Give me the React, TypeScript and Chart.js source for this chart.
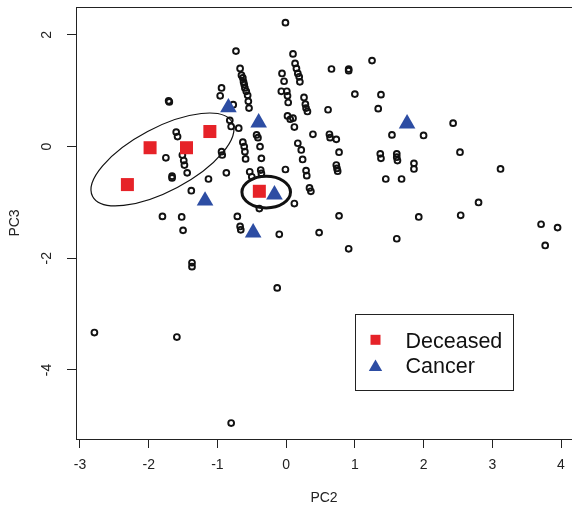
import React, { useEffect, useRef } from "react";
import { Chart, registerables } from "chart.js";

Chart.register(...registerables);

// ---- data ----
const pc2Others = [
  -0.01, -0.73, 0.10, 0.13, 0.15, 0.17, 0.19, 0.20,
  -0.67, -0.65, -0.63, -0.62, -0.61, -0.60, -0.58, -0.56, -0.55, -0.54,
  -0.06, -0.03, -0.07, 0.01, 0.02, 0.03,
  -0.94, -0.96, -1.71, -1.70,
  0.26, 0.28, 0.29, 0.31,
  0.02, 0.06, 0.10, 0.12,
  -0.82, -0.80, -0.69, -0.77,
  0.39, -1.60, -1.58,
  -0.43, -0.41, -0.38, -0.36,
  -0.63, -0.61, -0.60, -0.59,
  0.17, 0.22, 0.24,
  -1.75, -1.51, -1.49, -1.48, -1.44,
  -0.94, -0.93, -0.87, -1.66, -1.66, -1.13,
  -0.53, -0.50, -0.37, -0.36, -0.01,
  0.29, 0.30, 0.34, 0.36,
  -1.38, 0.12, -0.39, -1.80, -1.52, -0.71, -1.50, -0.67, -0.66, -0.10, 0.48,
  0.66, 0.91, 0.91, 1.25, 1.00, 1.38, 1.34, 0.61,
  0.63, 0.64, 0.73, 1.54, 2.00, 2.43,
  0.77, 0.73, 0.74, 0.75,
  1.37, 1.38, 1.61, 1.61, 1.62, 1.86, 1.86,
  2.53, 3.12, 1.45, 1.68,
  0.77, 1.93, 2.54, 2.80, 1.61, 0.91,
  3.71, 3.95, 3.77,
  -1.37, -1.37, -0.13, -2.79, -1.59, -0.80,
];
const pc3Others = [
  2.22, 1.71, 1.66, 1.49, 1.40, 1.31, 1.25, 1.16,
  1.40, 1.28, 1.23, 1.16, 1.11, 1.05, 0.99, 0.92, 0.81, 0.69,
  1.31, 1.17, 0.99, 0.99, 0.91, 0.79,
  1.05, 0.91, 0.82, 0.80,
  0.88, 0.76, 0.69, 0.63,
  0.55, 0.49, 0.51, 0.35,
  0.47, 0.36, 0.33, 0.75,
  0.22, 0.26, 0.18,
  0.21, 0.16, 0.00, -0.21,
  0.08, 0.00, -0.09, -0.22,
  0.06, -0.06, -0.23,
  -0.20, -0.15, -0.25, -0.33, -0.47,
  -0.09, -0.15, -0.47, -0.53, -0.56, -0.58,
  -0.45, -0.54, -0.42, -0.48, -0.41,
  -0.43, -0.52, -0.74, -0.80,
  -0.79, -1.02, -1.11, -1.25, -1.26, -1.25, -1.50, -1.43, -1.49, -1.57, -1.54,
  1.39, 1.39, 1.36, 1.54, 0.94, 0.93, 0.68, 0.66,
  0.22, 0.16, 0.13, 0.21, 0.20, 0.42,
  -0.10, -0.33, -0.39, -0.44,
  -0.13, -0.21, -0.13, -0.19, -0.25, -0.30, -0.40,
  -0.10, -0.40, -0.58, -0.58,
  -1.24, -1.26, -1.23, -1.00, -1.65, -1.83,
  -1.39, -1.45, -1.77,
  -2.08, -2.15, -2.53, -3.33, -3.41, -4.95,
];
const pc2Deceased = [-2.31, -1.98, -1.45, -1.11, -0.39];
const pc3Deceased = [-0.68, -0.02, -0.02, 0.27, -0.80];
const pc2Cancer = [-0.84, -0.40, -1.18, -0.17, -0.48, 1.76];
const pc3Cancer = [0.70, 0.43, -0.97, -0.86, -1.54, 0.41];

const xTicks = [-3, -2, -1, 0, 1, 2, 3, 4];
const yTicks = [-4, -2, 0, 2];
const seriesNames = ["Deceased", "Cancer"];
const xTitle = "PC2";
const yTitle = "PC3";

// ---- styling ----
const FONT = '"Liberation Sans", Arial, Helvetica, sans-serif';
const RED = "#E62228";
const BLUE = "#2D4DA3";
const INK = "#111";

// ellipse annotations: centre in data units, semi-axes in pixels
const ellipses = [
  { cx: -1.80, cy: -0.23, rx: 79, ry: 31.7, angle: -27.9, lw: 1.2 },
  { cx: -0.29, cy: -0.815, rx: 24.3, ry: 15.8, angle: 0, lw: 3 },
];
// legend anchor (top-left) in data units
const legendAnchor = { x: 1.0, y: -3.0 };

const toPts = (xs: number[], ys: number[]) => xs.map((v, i) => ({ x: v, y: ys[i] }));

const decorPlugin = {
  id: "decor",
  afterDatasetsDraw(chart: any) {
    const { ctx, chartArea, scales } = chart;
    const x = scales.x;
    const y = scales.y;
    ctx.save();
    // top frame line
    ctx.strokeStyle = "#222";
    ctx.lineWidth = 1;
    ctx.beginPath();
    ctx.moveTo(chartArea.left, chartArea.top + 0.5);
    ctx.lineTo(chartArea.right, chartArea.top + 0.5);
    ctx.stroke();

    // ellipses
    for (const e of ellipses) {
      ctx.beginPath();
      ctx.lineWidth = e.lw;
      ctx.strokeStyle = INK;
      ctx.ellipse(
        x.getPixelForValue(e.cx),
        y.getPixelForValue(e.cy),
        e.rx,
        e.ry,
        (e.angle * Math.PI) / 180,
        0,
        Math.PI * 2
      );
      ctx.stroke();
    }

    // legend
    const lx = Math.round(x.getPixelForValue(legendAnchor.x)) + 0.5;
    const ly = Math.round(y.getPixelForValue(legendAnchor.y)) + 0.5;
    const w = 158;
    const h = 76;
    ctx.fillStyle = "#fff";
    ctx.fillRect(lx, ly, w, h);
    ctx.strokeStyle = "#222";
    ctx.lineWidth = 1;
    ctx.strokeRect(lx, ly, w, h);
    const ds = chart.data.datasets;
    // square
    const sx = lx + 20;
    const sy1 = ly + 25.3;
    ctx.fillStyle = ds[1].backgroundColor;
    ctx.fillRect(sx - 5, sy1 - 5, 10, 10);
    // triangle
    const sy2 = ly + 51.5;
    ctx.fillStyle = ds[2].backgroundColor;
    ctx.beginPath();
    ctx.moveTo(sx, sy2 - 6.5);
    ctx.lineTo(sx + 6.7, sy2 + 5);
    ctx.lineTo(sx - 6.7, sy2 + 5);
    ctx.closePath();
    ctx.fill();
    // text
    ctx.fillStyle = INK;
    ctx.font = `21.5px ${FONT}`;
    ctx.textBaseline = "alphabetic";
    ctx.textAlign = "left";
    ctx.fillText(ds[1].label, lx + 50, ly + 33.3);
    ctx.fillText(ds[2].label, lx + 50, ly + 58.7);
    ctx.restore();
  },
};

export default function App() {
  const ref = useRef<HTMLCanvasElement | null>(null);

  useEffect(() => {
    if (!ref.current) return;
    const chart = new Chart(ref.current, {
      type: "scatter",
      data: {
        datasets: [
          {
            label: "Samples",
            data: toPts(pc2Others, pc3Others),
            pointStyle: "circle",
            pointRadius: 2.9,
            borderWidth: 1.9,
            borderColor: INK,
            backgroundColor: "rgba(0,0,0,0)",
            order: 3,
          },
          {
            label: seriesNames[0],
            data: toPts(pc2Deceased, pc3Deceased),
            pointStyle: "rect",
            pointRadius: 9.2,
            borderWidth: 0,
            borderColor: RED,
            backgroundColor: RED,
            order: 2,
          },
          {
            label: seriesNames[1],
            data: toPts(pc2Cancer, pc3Cancer),
            pointStyle: "triangle",
            pointRadius: 9.6,
            borderWidth: 0,
            borderColor: BLUE,
            backgroundColor: BLUE,
            order: 1,
          },
        ],
      },
      options: {
        responsive: false,
        animation: false,
        devicePixelRatio: 1,
        events: [],
        layout: { autoPadding: false, padding: { top: 7, left: 0, right: 0, bottom: 0 } },
        plugins: {
          legend: { display: false },
          tooltip: { enabled: false },
        },
        scales: {
          x: {
            type: "linear",
            position: "bottom",
            min: -3.058,
            max: 4.16,
            afterBuildTicks: (s: any) => {
              s.ticks = xTicks.map((v) => ({ value: v }));
            },
            afterFit: (s: any) => {
              s.height = 73;
              s.paddingLeft = 0;
              s.paddingRight = 0;
              s.paddingTop = 0;
              s.paddingBottom = 0;
            },
            grid: {
              display: true,
              drawOnChartArea: false,
              drawTicks: true,
              tickLength: 9,
              tickColor: "#222",
              tickWidth: 1,
            },
            border: { display: true, color: "#222", width: 1 },
            ticks: {
              autoSkip: false,
              padding: 9,
              color: "#222",
              font: { family: FONT, size: 14 },
              maxRotation: 0,
              minRotation: 0,
              callback: (v: any) => String(v),
            },
            title: {
              display: true,
              text: xTitle,
              color: "#222",
              font: { family: FONT, size: 14 },
              padding: { top: 0, bottom: 5 },
            },
          },
          y: {
            type: "linear",
            position: "left",
            min: -5.236,
            max: 2.5,
            afterBuildTicks: (s: any) => {
              s.ticks = yTicks.map((v) => ({ value: v }));
            },
            afterFit: (s: any) => {
              s.width = 76;
              s.paddingLeft = 0;
              s.paddingRight = 0;
              s.paddingTop = 0;
              s.paddingBottom = 0;
            },
            grid: {
              display: true,
              drawOnChartArea: false,
              drawTicks: true,
              tickLength: 9,
              tickColor: "#222",
              tickWidth: 1,
            },
            border: { display: true, color: "#222", width: 1 },
            ticks: {
              autoSkip: false,
              padding: 14,
              crossAlign: "center",
              minRotation: 90,
              maxRotation: 90,
              color: "#222",
              font: { family: FONT, size: 14 },
              callback: (v: any) => String(v),
            },
            title: {
              display: true,
              text: yTitle,
              color: "#222",
              font: { family: FONT, size: 14 },
              padding: { top: 6.6, bottom: 0 },
            },
          },
        },
      },
      plugins: [decorPlugin],
    } as any);
    return () => chart.destroy();
  }, []);

  return (
    <div style={{ position: "absolute", left: 0, top: 0, width: 572, height: 512, background: "#fff" }}>
      <canvas ref={ref} width={572} height={512} style={{ display: "block", width: 572, height: 512 }} />
    </div>
  );
}
